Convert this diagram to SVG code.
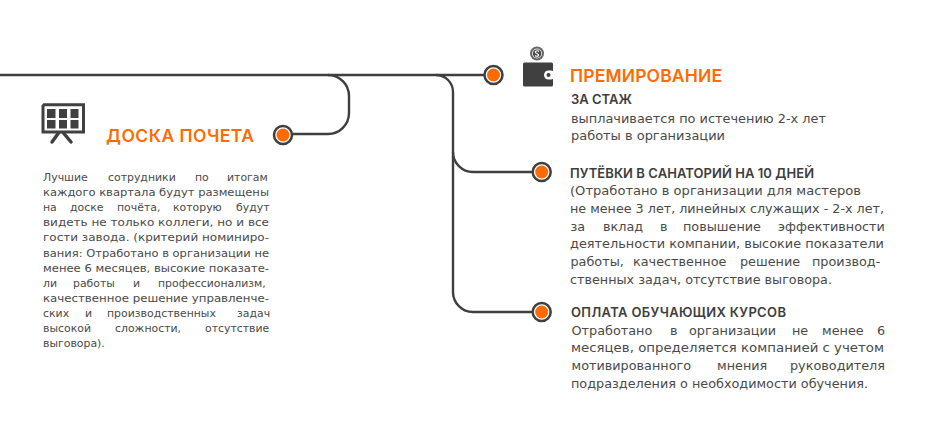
<svg xmlns="http://www.w3.org/2000/svg" width="930" height="445" viewBox="0 0 930 445">
<style>
text{font-family:"DejaVu Sans","Noto Sans","Liberation Sans",sans-serif;fill:#4a4a4a}
.t,.h{font-family:"Inter","Noto Sans","Liberation Sans",sans-serif}
.t{font-size:17.5px;font-weight:600;fill:#ff6b00}
.h{font-size:13px;font-weight:600;fill:#3d3d3d}
.b{font-size:12.800px}
.s{font-size:10.900px}
.c{fill:none;stroke:#3f3f3f;stroke-width:2.400}
.ring{fill:#fff;stroke:#3f3f3f;stroke-width:2.500}
.dot{fill:#ff6b00}
.i{fill:#404040}
</style>
<rect width="930" height="445" fill="#fff"/>
<g id="connectors">
<path class="c" d="M0 75H484"/>
<path class="c" d="M328 75A21 21 0 0 1 349 96V113A21 21 0 0 1 328 134H293"/>
<path class="c" d="M436 75A17 17 0 0 1 453 92V292A20 20 0 0 0 473 312H532"/>
<path class="c" d="M453 152A20 20 0 0 0 473 172H532"/>
</g>
<g id="node-premium">
<circle class="ring" cx="493.500" cy="75" r="9"/><circle class="dot" cx="493.500" cy="75" r="6.500"/>
<circle cx="537" cy="53.500" r="7" fill="#666"/><circle cx="537" cy="53.500" r="5" fill="#ddd"/><circle cx="537" cy="53.500" r="4" fill="#444"/>
<path d="M539 51.500Q537 50 535.500 51.500Q535 53 537 53.500Q539 54.500 538.500 55.500Q537 57 535 55.500" fill="none" stroke="#fff" stroke-width="1.200"/>
<rect class="i" x="523" y="62.500" width="30" height="24" rx="1.500"/>
<rect x="544" y="70.500" width="11" height="9" rx="4.500" fill="#fff"/>
<circle cx="548.500" cy="75" r="2" fill="#404040"/>
<text class="t" x="570" y="82" textLength="152" lengthAdjust="spacing">ПРЕМИРОВАНИЕ</text>
<text class="h" x="571" y="104">ЗА СТАЖ</text>
<text class="b" x="571" y="123" textLength="255" lengthAdjust="spacingAndGlyphs">выплачивается по истечению 2-х лет</text>
<text class="b" x="571" y="140" textLength="154" lengthAdjust="spacingAndGlyphs">работы в организации</text>
</g>
<g id="node-voucher">
<circle class="ring" cx="541.700" cy="172" r="9"/><circle class="dot" cx="541.700" cy="172" r="6.500"/>
<text class="h" x="570" y="178" textLength="244" lengthAdjust="spacing">ПУТЁВКИ В САНАТОРИЙ НА 10 ДНЕЙ</text>
<text class="b" x="570" y="195" textLength="291" lengthAdjust="spacingAndGlyphs">(Отработано в организации для мастеров</text>
<text class="b" x="570" y="213" textLength="314" lengthAdjust="spacingAndGlyphs">не менее 3 лет, линейных служащих - 2-х лет,</text>
<text class="b" x="570" y="231"><tspan x="570.500">за</tspan><tspan x="603">вклад</tspan><tspan x="660">в</tspan><tspan x="683">повышение</tspan><tspan x="778">эффективности</tspan></text>
<text class="b" x="570" y="248" textLength="314" lengthAdjust="spacingAndGlyphs">деятельности компании, высокие показатели</text>
<text class="b" x="570" y="266"><tspan x="570.500">работы,</tspan><tspan x="633">качественное</tspan><tspan x="740">решение</tspan><tspan x="812">производ-</tspan></text>
<text class="b" x="570" y="284" textLength="262" lengthAdjust="spacingAndGlyphs">ственных задач, отсутствие выговора.</text>
</g>
<g id="node-courses">
<circle class="ring" cx="541.700" cy="312" r="9"/><circle class="dot" cx="541.700" cy="312" r="6.500"/>
<text class="h" x="571" y="317" textLength="215" lengthAdjust="spacing">ОПЛАТА ОБУЧАЮЩИХ КУРСОВ</text>
<text class="b" x="571" y="335"><tspan x="571.500">Отработано</tspan><tspan x="670">в</tspan><tspan x="689">организации</tspan><tspan x="792">не</tspan><tspan x="822">менее</tspan><tspan x="877">6</tspan></text>
<text class="b" x="571" y="352" textLength="313" lengthAdjust="spacingAndGlyphs">месяцев, определяется компанией с учетом</text>
<text class="b" x="571" y="370"><tspan x="571.500">мотивированного</tspan><tspan x="717">мнения</tspan><tspan x="790">руководителя</tspan></text>
<text class="b" x="571" y="388" textLength="297" lengthAdjust="spacingAndGlyphs">подразделения о необходимости обучения.</text>
</g>
<g id="node-board">
<circle class="ring" cx="283" cy="135" r="9"/><circle class="dot" cx="283" cy="135" r="6.500"/>
<path d="M44 104.800H83.500V132H43V106Z" fill="#fff" stroke="#404040" stroke-width="3"/>
<g class="i"><rect x="47" y="109" width="8.500" height="9"/><rect x="59" y="109" width="8" height="9"/><rect x="70.500" y="109" width="8" height="9"/><rect x="47" y="120" width="8.500" height="8.500"/><rect x="59" y="120" width="8" height="8.500"/><rect x="70.500" y="120" width="8" height="8.500"/></g>
<path d="M58.500 133L52 142M63.500 133L71 142" stroke="#404040" stroke-width="3.500" stroke-linecap="round" fill="none"/>
<text class="t" x="106" y="142" textLength="148" lengthAdjust="spacing">ДОСКА ПОЧЕТА</text>
<g class="s">
<text x="43" y="181"><tspan x="43">Лучшие</tspan><tspan x="108">сотрудники</tspan><tspan x="195">по</tspan><tspan x="227">итогам</tspan></text>
<text x="43" y="196" textLength="226" lengthAdjust="spacingAndGlyphs">каждого квартала будут размещены</text>
<text x="43" y="211"><tspan x="43">на</tspan><tspan x="70">доске</tspan><tspan x="117">почёта,</tspan><tspan x="173">которую</tspan><tspan x="236">будут</tspan></text>
<text x="43" y="226" textLength="226" lengthAdjust="spacingAndGlyphs">видеть не только коллеги, но и все</text>
<text x="43" y="241" textLength="226" lengthAdjust="spacingAndGlyphs">гости завода. (критерий номиниро-</text>
<text x="43" y="257" textLength="226" lengthAdjust="spacingAndGlyphs">вания: Отработано в организации не</text>
<text x="43" y="272" textLength="226" lengthAdjust="spacingAndGlyphs">менее 6 месяцев, высокие показате-</text>
<text x="43" y="287"><tspan x="43">ли</tspan><tspan x="73">работы</tspan><tspan x="133">и</tspan><tspan x="158">профессионализм,</tspan></text>
<text x="43" y="302" textLength="226" lengthAdjust="spacingAndGlyphs">качественное решение управленче-</text>
<text x="43" y="317"><tspan x="43">ских</tspan><tspan x="85">и</tspan><tspan x="107">производственных</tspan><tspan x="237">задач</tspan></text>
<text x="43" y="332"><tspan x="43">высокой</tspan><tspan x="115">сложности,</tspan><tspan x="205">отсутствие</tspan></text>
<text x="43" y="347">выговора).</text>
</g>
</g>
</svg>
